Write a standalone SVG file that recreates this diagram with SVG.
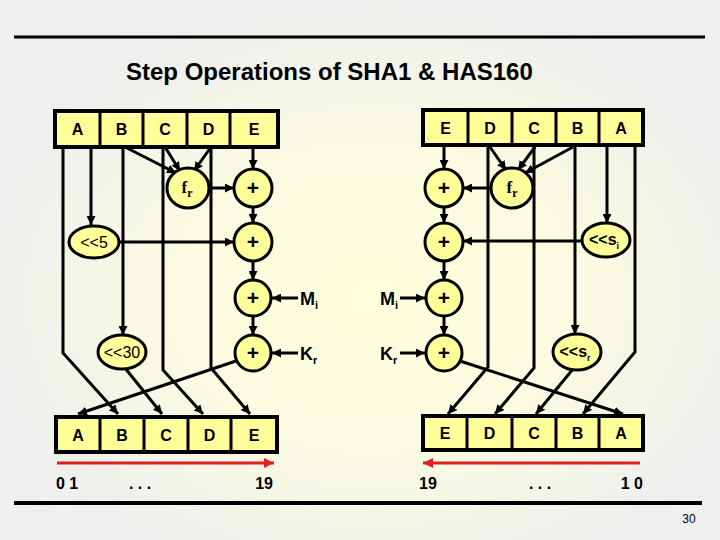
<svg xmlns="http://www.w3.org/2000/svg" width="720" height="540" viewBox="0 0 720 540">
<defs>
<radialGradient id="bg" cx="0.52" cy="0.55" r="0.62">
<stop offset="0" stop-color="#ffffdc"/>
<stop offset="0.45" stop-color="#fbfbe2"/>
<stop offset="0.8" stop-color="#f0f1ec"/>
<stop offset="1" stop-color="#eeeff0"/>
</radialGradient>
<marker id="ah" viewBox="0 0 10 10" refX="10" refY="5" markerWidth="9" markerHeight="9" markerUnits="userSpaceOnUse" orient="auto"><path d="M0,0 L10,5 L0,10 z" fill="#000"/></marker>
<marker id="ahr" viewBox="0 0 10 10" refX="10" refY="5" markerWidth="10" markerHeight="10" markerUnits="userSpaceOnUse" orient="auto"><path d="M0,0 L10,5 L0,10 z" fill="#e0201e"/></marker>
</defs>
<style>
.box{fill:#ffff99;stroke:#000;stroke-width:4}
.div{stroke:#000;stroke-width:3}
.nd{fill:#ffff99;stroke:#000;stroke-width:3}
.c{fill:none;stroke:#000;stroke-width:3;marker-end:url(#ah)}
.red{fill:none;stroke:#e0201e;stroke-width:3;marker-end:url(#ahr)}
.lb{font-family:"Liberation Sans",Arial,sans-serif;font-weight:bold;font-size:16px;text-anchor:middle}
.pl{font-family:"Liberation Sans",Arial,sans-serif;font-weight:bold;font-size:21px;text-anchor:middle}
.tx{font-family:"Liberation Sans",Arial,sans-serif;font-size:16px;text-anchor:middle}
.sv{font-family:"Liberation Serif","Times New Roman",serif;font-weight:bold;font-size:17px;text-anchor:middle}
.num{font-family:"Liberation Sans",Arial,sans-serif;font-weight:bold;font-size:16px}
.mk{font-family:"Liberation Sans",Arial,sans-serif;font-weight:bold;font-size:18px}
</style>
<rect width="720" height="540" fill="url(#bg)"/>
<line x1="14" y1="37" x2="705" y2="37" stroke="#000" stroke-width="3"/>
<line x1="14" y1="503" x2="702" y2="503" stroke="#000" stroke-width="4"/>
<text x="126" y="80" font-family="Liberation Sans,Arial,sans-serif" font-weight="bold" font-size="24px">Step Operations of SHA1 &amp; HAS160</text>
<text x="689" y="523" font-family="Liberation Sans,Arial,sans-serif" font-size="12px" text-anchor="middle">30</text>

<g id="connectors">
<path class="c" d="M63,147 V353 L118,414"/>
<path class="c" d="M91,147 V225"/>
<path class="c" d="M125,147 L176,173"/>
<path class="c" d="M165,147 L180,171"/>
<path class="c" d="M211,147 L194,171"/>
<path class="c" d="M123,147 V335"/>
<path class="c" d="M163,147 V370 L203,414"/>
<path class="c" d="M211,147 V368 L250,414"/>
<path class="c" d="M253,147 V169"/>
<path class="c" d="M208,188 H234"/>
<path class="c" d="M253,207 V223"/>
<path class="c" d="M118,242 H234"/>
<path class="c" d="M253,261 V280"/>
<path class="c" d="M298,298 H272"/>
<path class="c" d="M253,316 V335"/>
<path class="c" d="M298,353 H272"/>
<path class="c" d="M236,361 L78,414"/>
<path class="c" d="M125,368 L162,414"/>
<path class="c" d="M444,145 V169"/>
<path class="c" d="M492,188 H463"/>
<path class="c" d="M490,147 L506,170"/>
<path class="c" d="M535,147 L518,170"/>
<path class="c" d="M573,147 L525,173"/>
<path class="c" d="M488,147 V367 L448,414"/>
<path class="c" d="M534,147 V368 L495,414"/>
<path class="c" d="M575,147 V334"/>
<path class="c" d="M607,147 V223"/>
<path class="c" d="M635,147 V352 L583,414"/>
<path class="c" d="M444,207 V223"/>
<path class="c" d="M582,241 H463"/>
<path class="c" d="M444,261 V280"/>
<path class="c" d="M400,298 H425"/>
<path class="c" d="M444,316 V335"/>
<path class="c" d="M400,353 H425"/>
<path class="c" d="M460,361 L623,414"/>
<path class="c" d="M573,369 L536,414"/>
<path class="red" d="M57,463 H274"/>
<path class="red" d="M640,463 H423"/>
</g>

<g id="reg-left-top">
<rect class="box" x="55" y="111" width="223" height="36"/>
<line class="div" x1="100" y1="111" x2="100" y2="147"/>
<line class="div" x1="143" y1="111" x2="143" y2="147"/>
<line class="div" x1="187" y1="111" x2="187" y2="147"/>
<line class="div" x1="230" y1="111" x2="230" y2="147"/>
<text class="lb" x="77.5" y="135">A</text>
<text class="lb" x="121.5" y="135">B</text>
<text class="lb" x="165" y="135">C</text>
<text class="lb" x="208.5" y="135">D</text>
<text class="lb" x="254" y="135">E</text>
</g>
<g id="reg-right-top">
<rect class="box" x="423" y="110" width="220" height="35"/>
<line class="div" x1="468" y1="110" x2="468" y2="145"/>
<line class="div" x1="512" y1="110" x2="512" y2="145"/>
<line class="div" x1="556" y1="110" x2="556" y2="145"/>
<line class="div" x1="599" y1="110" x2="599" y2="145"/>
<text class="lb" x="445.5" y="134">E</text>
<text class="lb" x="490" y="134">D</text>
<text class="lb" x="534" y="134">C</text>
<text class="lb" x="577.5" y="134">B</text>
<text class="lb" x="621" y="134">A</text>
</g>
<g id="reg-left-bottom">
<rect class="box" x="56" y="417" width="221" height="35"/>
<line class="div" x1="100" y1="417" x2="100" y2="452"/>
<line class="div" x1="144" y1="417" x2="144" y2="452"/>
<line class="div" x1="188" y1="417" x2="188" y2="452"/>
<line class="div" x1="231" y1="417" x2="231" y2="452"/>
<text class="lb" x="78" y="441">A</text>
<text class="lb" x="122" y="441">B</text>
<text class="lb" x="166" y="441">C</text>
<text class="lb" x="209.5" y="441">D</text>
<text class="lb" x="254" y="441">E</text>
</g>
<g id="reg-right-bottom">
<rect class="box" x="423" y="416" width="220" height="34"/>
<line class="div" x1="467" y1="416" x2="467" y2="450"/>
<line class="div" x1="512" y1="416" x2="512" y2="450"/>
<line class="div" x1="556" y1="416" x2="556" y2="450"/>
<line class="div" x1="599" y1="416" x2="599" y2="450"/>
<text class="lb" x="445" y="439">E</text>
<text class="lb" x="489.5" y="439">D</text>
<text class="lb" x="534" y="439">C</text>
<text class="lb" x="577.5" y="439">B</text>
<text class="lb" x="621" y="439">A</text>
</g>

<g id="fr-left"><ellipse class="nd" cx="188" cy="188" rx="21" ry="20"/><text class="sv" x="187" y="193">f<tspan font-size="12px" dy="4">r</tspan></text></g>
<g id="plus-l1"><circle class="nd" cx="253" cy="188" r="19"/><text class="pl" x="253" y="195">+</text></g>
<g id="shl5"><ellipse class="nd" cx="94" cy="242" rx="25" ry="16"/><text class="tx" x="94" y="248">&lt;&lt;5</text></g>
<g id="plus-l2"><circle class="nd" cx="253" cy="242" r="19"/><text class="pl" x="253" y="249">+</text></g>
<g id="plus-l3"><circle class="nd" cx="253" cy="298" r="18"/><text class="pl" x="253" y="305">+</text></g>
<g id="plus-l4"><circle class="nd" cx="253" cy="353" r="18"/><text class="pl" x="253" y="360">+</text></g>
<g id="shl30"><ellipse class="nd" cx="122" cy="352" rx="24" ry="17"/><text class="tx" x="122" y="358" font-size="15px">&lt;&lt;30</text></g>
<g id="mi-left"><text class="mk" x="300" y="305">M<tspan font-size="11px" dy="4">i</tspan></text></g>
<g id="kr-left"><text class="mk" x="300" y="360">K<tspan font-size="11px" dy="4">r</tspan></text></g>

<g id="fr-right"><ellipse class="nd" cx="512" cy="188" rx="21" ry="20"/><text class="sv" x="512" y="193">f<tspan font-size="12px" dy="4">r</tspan></text></g>
<g id="plus-r1"><circle class="nd" cx="444" cy="188" r="19"/><text class="pl" x="444" y="195">+</text></g>
<g id="shlsi"><ellipse class="nd" cx="606" cy="240" rx="24" ry="17"/><text class="lb" x="604" y="245" font-size="13px">&lt;&lt;s<tspan font-size="9px" dy="4">i</tspan></text></g>
<g id="plus-r2"><circle class="nd" cx="444" cy="242" r="19"/><text class="pl" x="444" y="249">+</text></g>
<g id="plus-r3"><circle class="nd" cx="444" cy="298" r="18"/><text class="pl" x="444" y="305">+</text></g>
<g id="plus-r4"><circle class="nd" cx="444" cy="353" r="18"/><text class="pl" x="444" y="360">+</text></g>
<g id="shlsr"><ellipse class="nd" cx="577" cy="352" rx="24" ry="18"/><text class="lb" x="575" y="357" font-size="13px">&lt;&lt;s<tspan font-size="9px" dy="4">r</tspan></text></g>
<g id="mi-right"><text class="mk" x="380" y="305">M<tspan font-size="11px" dy="4">i</tspan></text></g>
<g id="kr-right"><text class="mk" x="380" y="360">K<tspan font-size="11px" dy="4">r</tspan></text></g>

<g id="labels">
<text class="num" x="56" y="489">0 1</text>
<text class="num" x="140" y="489" text-anchor="middle">. . .</text>
<text class="num" x="273" y="489" text-anchor="end">19</text>
<text class="num" x="419" y="489">19</text>
<text class="num" x="540" y="489" text-anchor="middle">. . .</text>
<text class="num" x="643" y="489" text-anchor="end">1 0</text>
</g>
</svg>
